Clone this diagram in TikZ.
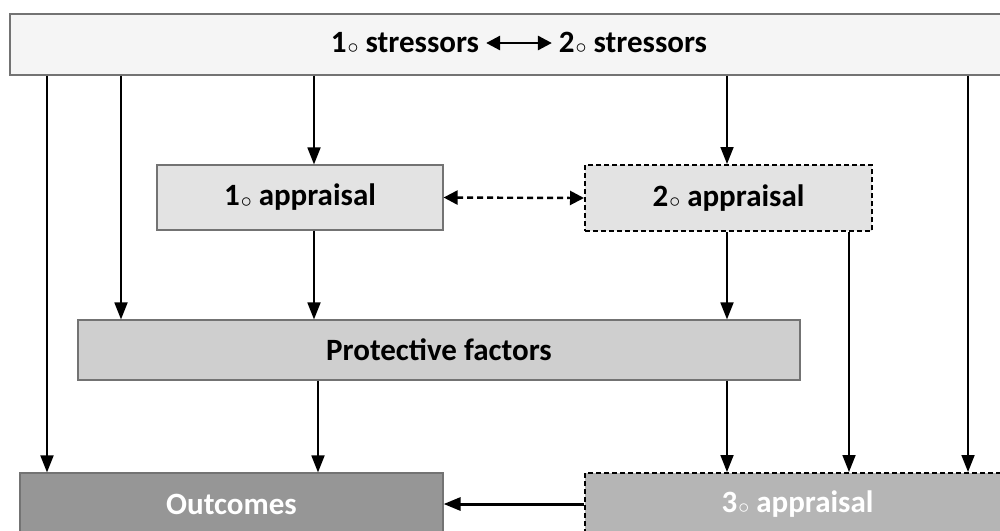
\documentclass[tikz,border=0pt]{standalone}
\usepackage{fontspec}
\setmainfont{Carlito}
\usetikzlibrary{arrows.meta}
\newcommand{\ordcirc}{\kern0.5pt\raisebox{-0.1ex}{$\scriptstyle\circ$}}

\begin{document}
\begin{tikzpicture}[x=0.5pt, y=-0.5pt,
	lbl/.style = {font=\bfseries\fontsize{15.5}{18}\selectfont},
	box/.style = {lbl, draw=black!55, line width=0.6pt, inner sep=0pt},
	dbox/.style = {box, draw=black, dash pattern=on 2.5pt off 1.5pt, line width=1pt},
	arr/.style = {-{Triangle[length=8.5pt,width=6.5pt]}, line width=0.9pt},
	darr/.style = {{Triangle[length=7pt,width=7pt]}-{Triangle[length=7pt,width=7pt]}}]
\useasboundingbox (0,0) rectangle (1000,530);
\clip (0,0) rectangle (1000,530);
\node[box, fill=black!4, minimum width=500pt, minimum height=30.5pt] (stress) at (510,44.5) {};
\node[lbl] (s1) at (405,43) {1\ordcirc{} stressors};
\node[lbl] (s2) at (633,43) {2\ordcirc{} stressors};
\node[box, fill=black!11, minimum width=143pt, minimum height=32.5pt] (app1) at (300,197.5) {1\ordcirc{} appraisal};
\node[dbox, fill=black!11, minimum width=143.5pt, minimum height=33pt] (app2) at (728.5,198) {2\ordcirc{} appraisal};
\node[box, fill=black!19, minimum width=361pt, minimum height=30pt] (prot) at (439,350) {Protective factors};
\node[box, fill=black!41, text=white, minimum width=211.5pt, minimum height=31pt] (outc) at (231.5,504) {Outcomes};
\node[dbox, fill=black!29, text=white, minimum width=212.5pt, minimum height=31pt] (app3) at (797.5,504) {3\ordcirc{} appraisal};

\draw[darr, line width=1.4pt] (s1) -- (s2);
\draw[arr] (stress.south -| 47,0) -- (outc.north -| 47,0);
\draw[arr] (stress.south -| 121,0) -- (prot.north -| 121,0);
\draw[arr] (stress.south -| 314,0) -- (app1.north -| 314,0);
\draw[arr] (stress.south -| 727,0) -- (app2.north -| 727,0);
\draw[arr] (stress.south -| 968,0) -- (app3.north -| 968,0);
\draw[arr] (app1.south -| 314,0) -- (prot.north -| 314,0);
\draw[arr] (app2.south -| 727,0) -- (prot.north -| 727,0);
\draw[arr] (app2.south -| 849,0) -- (app3.north -| 849,0);
\draw[arr] (prot.south -| 318,0) -- (outc.north -| 318,0);
\draw[arr] (prot.south -| 727,0) -- (app3.north -| 727,0);
\draw[darr, dash pattern=on 3pt off 2pt, line width=1.2pt] (app1.east) -- (app2.west);
\draw[arr, line width=1.5pt] (app3.west) -- (outc.east);
\end{tikzpicture}
\end{document}
